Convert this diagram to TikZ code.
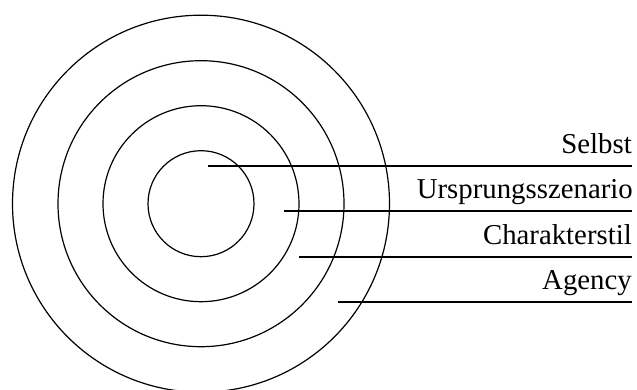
\documentclass[tikz,border=0pt]{standalone}
\usepackage{fontspec}
\setmainfont{Liberation Serif}
\begin{document}
\begin{tikzpicture}[x=1pt,y=-1pt,
  ring/.style={draw=black,line width=1.2pt},
  lead/.style={draw=black,line width=1.5pt},
  lab/.style={anchor=base east,inner sep=0pt,font=\fontsize{28.8}{32}\selectfont}]
\useasboundingbox (0,0) rectangle (637,390);
\coordinate (c) at (201,203.7);
\draw[ring] (c) circle[radius=53pt];
\draw[ring] (c) circle[radius=98pt];
\draw[ring] (c) circle[radius=143pt];
\draw[ring] (c) circle[radius=188.5pt];
% leader lines
\coordinate (s1) at (208,166);   \coordinate (e1) at (632,166);
\coordinate (s2) at (284,211);   \coordinate (e2) at (632,211);
\coordinate (s3) at (299,257);   \coordinate (e3) at (632,257);
\coordinate (s4) at (338,302);   \coordinate (e4) at (632,302);
\draw[lead] (s1) -- (e1);
\draw[lead] (s2) -- (e2);
\draw[lead] (s3) -- (e3);
\draw[lead] (s4) -- (e4);
% labels
\node[lab] (l1) at (632,153.5) {Selbst};
\node[lab] (l2) at (633,199) {Ursprungsszenario};
\node[lab] (l3) at (632,244.5) {Charakterstil};
\node[lab] (l4) at (632,289.5) {Agency};
\end{tikzpicture}
\end{document}
